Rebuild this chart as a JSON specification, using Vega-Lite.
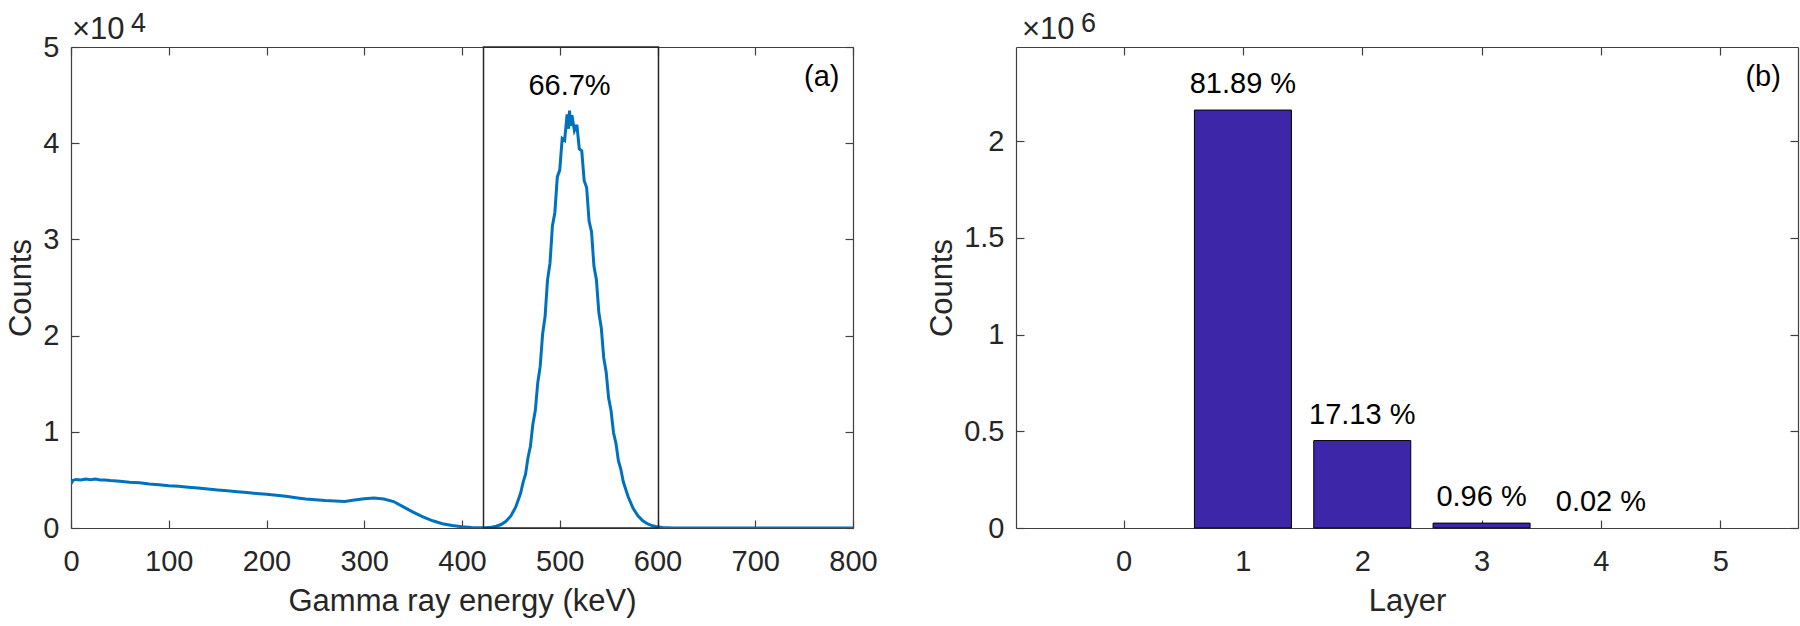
{
  "$schema": "https://vega.github.io/schema/vega-lite/v6.json",
  "background": "white",
  "padding": {"left": 5, "top": 10, "right": 5, "bottom": 5},
  "spacing": 48,
  "config": {
    "font": "Liberation Sans",
    "view": {"stroke": null},
    "axis": {
      "domainColor": "#404040", "tickColor": "#404040", "labelColor": "#262626", "titleColor": "#262626",
      "labelFontSize": 29, "titleFontSize": 31, "titleFontWeight": "normal", "grid": false,
      "tickSize": -8, "domainWidth": 1.2, "tickWidth": 1.2, "labelFont": "Liberation Sans", "titleFont": "Liberation Sans",
      "labelFlush": false, "labelOverlap": false
    },
    "axisBottom": {"labelPadding": 27, "titlePadding": 10},
    "axisLeft": {"labelPadding": 20, "titlePadding": 5}
  },
  "hconcat": [
    {
      "width": 782,
      "height": 481,
      "resolve": {"axis": {"x": "independent", "y": "independent"}},
      "layer": [
        {
          "data": {"values": [
            {"e":0,"c":4600},{"e":2,"c":4950},{"e":5,"c":5050},{"e":10,"c":5000},{"e":15,"c":5100},{"e":20,"c":5020},{"e":25,"c":5080},{"e":30,"c":4980},{"e":35,"c":5000},{"e":40,"c":4930},{"e":50,"c":4850},{"e":60,"c":4760},{"e":70,"c":4700},{"e":80,"c":4580},{"e":90,"c":4500},{"e":100,"c":4380},{"e":110,"c":4330},{"e":120,"c":4240},{"e":130,"c":4150},{"e":140,"c":4050},{"e":150,"c":3960},{"e":160,"c":3870},{"e":170,"c":3780},{"e":180,"c":3700},{"e":190,"c":3590},{"e":200,"c":3500},{"e":210,"c":3400},{"e":220,"c":3300},{"e":230,"c":3150},{"e":240,"c":3020},{"e":250,"c":2930},{"e":260,"c":2850},{"e":270,"c":2800},{"e":280,"c":2760},{"e":290,"c":2900},{"e":300,"c":3050},{"e":310,"c":3120},{"e":320,"c":3020},{"e":330,"c":2750},{"e":340,"c":2200},{"e":350,"c":1650},{"e":360,"c":1150},{"e":370,"c":750},{"e":380,"c":450},{"e":390,"c":250},{"e":400,"c":120},{"e":410,"c":50},{"e":420,"c":15},{"e":425,"c":40},{"e":430,"c":85},{"e":435,"c":180},{"e":440,"c":360},{"e":445,"c":690},{"e":450,"c":1260},{"e":455,"c":2190},{"e":460,"c":3640},{"e":462.5,"c":4750},{"e":465,"c":5600},{"e":467.5,"c":7300},{"e":470,"c":8500},{"e":472.5,"c":10800},{"e":475,"c":12200},{"e":477.5,"c":15100},{"e":480,"c":16800},{"e":482.5,"c":20200},{"e":485,"c":22000},{"e":487.5,"c":25800},{"e":490,"c":27500},{"e":492.5,"c":31400},{"e":495,"c":32800},{"e":497.5,"c":36500},{"e":500,"c":37200},{"e":502.5,"c":40500},{"e":505,"c":40300},{"e":507.5,"c":43000},{"e":509,"c":41500},{"e":510,"c":43400},{"e":511,"c":41800},{"e":512.5,"c":42900},{"e":515,"c":41300},{"e":517.5,"c":41900},{"e":520,"c":39400},{"e":522.5,"c":39200},{"e":525,"c":36100},{"e":527.5,"c":35400},{"e":530,"c":31900},{"e":532.5,"c":30800},{"e":535,"c":27200},{"e":537.5,"c":25800},{"e":540,"c":22400},{"e":542.5,"c":20800},{"e":545,"c":17700},{"e":547.5,"c":16200},{"e":550,"c":13500},{"e":552.5,"c":12200},{"e":555,"c":9900},{"e":557.5,"c":8800},{"e":560,"c":7000},{"e":562.5,"c":6100},{"e":565,"c":4800},{"e":570,"c":3240},{"e":575,"c":2050},{"e":580,"c":1260},{"e":585,"c":740},{"e":590,"c":420},{"e":595,"c":230},{"e":600,"c":120},{"e":605,"c":60},{"e":610,"c":30},{"e":615,"c":10},{"e":620,"c":0},{"e":700,"c":0},{"e":800,"c":0}
          ]},
          "mark": {"type": "line", "color": "#0072BD", "strokeWidth": 3, "clip": true},
          "encoding": {
            "x": {"field": "e", "type": "quantitative", "scale": {"domain": [0, 800], "nice": false, "zero": false},
                  "axis": {"orient": "bottom", "values": [0,100,200,300,400,500,600,700,800], "title": "Gamma ray energy (keV)"}},
            "y": {"field": "c", "type": "quantitative", "scale": {"domain": [0, 50000], "nice": false},
                  "axis": {"orient": "left", "values": [0,10000,20000,30000,40000,50000], "labelExpr": "datum.value / 10000", "title": "Counts"}}
          }
        },
        {
          "data": {"values": [{"lo": 422, "hi": 601, "ylo": 0, "yhi": 50000}]},
          "mark": {"type": "rect", "fill": null, "fillOpacity": 0, "stroke": "#262626", "strokeWidth": 1.5},
          "encoding": {
            "x": {"field": "lo", "type": "quantitative", "axis": {"orient": "top", "values": [0,100,200,300,400,500,600,700,800], "labels": false, "title": null}},
            "x2": {"field": "hi"},
            "y": {"field": "ylo", "type": "quantitative", "axis": {"orient": "right", "values": [0,10000,20000,30000,40000,50000], "labels": false, "title": null}},
            "y2": {"field": "yhi"}
          }
        },
        {
          "data": {"values": [{"x": 510, "y": 45950, "t": "66.7%"}, {"x": 768, "y": 46900, "t": "(a)"}]},
          "mark": {"type": "text", "fontSize": 29, "color": "#000000", "align": "center", "baseline": "middle", "font": "Liberation Sans"},
          "encoding": {
            "x": {"field": "x", "type": "quantitative", "axis": null},
            "y": {"field": "y", "type": "quantitative", "axis": null},
            "text": {"field": "t"}
          }
        },
        {
          "data": {"values": [{"x": 0, "y": 50000, "t": "×10"}]},
          "mark": {"type": "text", "fontSize": 31, "color": "#262626", "align": "left", "baseline": "alphabetic", "dx": 1, "dy": -8, "font": "Liberation Sans"},
          "encoding": {
            "x": {"field": "x", "type": "quantitative", "axis": null},
            "y": {"field": "y", "type": "quantitative", "axis": null},
            "text": {"field": "t"}
          }
        },
        {
          "data": {"values": [{"x": 0, "y": 50000, "t": "4"}]},
          "mark": {"type": "text", "fontSize": 27, "color": "#262626", "align": "left", "baseline": "alphabetic", "dx": 60, "dy": -15, "font": "Liberation Sans"},
          "encoding": {
            "x": {"field": "x", "type": "quantitative", "axis": null},
            "y": {"field": "y", "type": "quantitative", "axis": null},
            "text": {"field": "t"}
          }
        }
      ]
    },
    {
      "width": 782,
      "height": 481,
      "resolve": {"axis": {"x": "independent", "y": "independent"}},
      "layer": [
        {
          "data": {"values": [
            {"layer": 0, "counts": 0},
            {"layer": 1, "counts": 2160000},
            {"layer": 2, "counts": 451900},
            {"layer": 3, "counts": 25300},
            {"layer": 4, "counts": 530}
          ]},
          "mark": {"type": "bar", "color": "#3E26A8", "strokeWidth": 1, "width": 97},
          "encoding": {
            "x": {"field": "layer", "type": "quantitative", "scale": {"domain": [-0.86, 5.61], "nice": false, "zero": false},
                  "axis": {"orient": "bottom", "values": [0,1,2,3,4,5], "title": "Layer"}},
            "y": {"field": "counts", "type": "quantitative", "scale": {"domain": [0, 2486000], "nice": false},
                  "axis": {"orient": "left", "values": [0,500000,1000000,1500000,2000000], "labelExpr": "datum.value / 1000000", "title": "Counts"}},
            "stroke": {"condition": {"test": "datum.counts > 1000", "value": "#000000"}, "value": null}
          }
        },
        {
          "data": {"values": [
            {"layer": 1, "counts": 2160000, "t": "81.89 %"},
            {"layer": 2, "counts": 451900, "t": "17.13 %"},
            {"layer": 3, "counts": 25300, "t": "0.96 %"},
            {"layer": 4, "counts": 530, "t": "0.02 %"}
          ]},
          "mark": {"type": "text", "fontSize": 29, "color": "#000000", "align": "center", "baseline": "alphabetic", "dy": -17, "font": "Liberation Sans"},
          "encoding": {
            "x": {"field": "layer", "type": "quantitative", "axis": {"orient": "top", "values": [0,1,2,3,4,5], "labels": false, "title": null}},
            "y": {"field": "counts", "type": "quantitative", "axis": {"orient": "right", "values": [0,500000,1000000,1500000,2000000], "labels": false, "title": null}},
            "text": {"field": "t"}
          }
        },
        {
          "data": {"values": [{"x": 5.36, "y": 2331000, "t": "(b)"}]},
          "mark": {"type": "text", "fontSize": 29, "color": "#000000", "align": "center", "baseline": "middle", "font": "Liberation Sans"},
          "encoding": {
            "x": {"field": "x", "type": "quantitative", "axis": null},
            "y": {"field": "y", "type": "quantitative", "axis": null},
            "text": {"field": "t"}
          }
        },
        {
          "data": {"values": [{"x": -0.86, "y": 2486000, "t": "×10"}]},
          "mark": {"type": "text", "fontSize": 31, "color": "#262626", "align": "left", "baseline": "alphabetic", "dx": 1, "dy": -8, "font": "Liberation Sans"},
          "encoding": {
            "x": {"field": "x", "type": "quantitative", "axis": null},
            "y": {"field": "y", "type": "quantitative", "axis": null},
            "text": {"field": "t"}
          }
        },
        {
          "data": {"values": [{"x": -0.86, "y": 2486000, "t": "6"}]},
          "mark": {"type": "text", "fontSize": 27, "color": "#262626", "align": "left", "baseline": "alphabetic", "dx": 60, "dy": -15, "font": "Liberation Sans"},
          "encoding": {
            "x": {"field": "x", "type": "quantitative", "axis": null},
            "y": {"field": "y", "type": "quantitative", "axis": null},
            "text": {"field": "t"}
          }
        }
      ]
    }
  ]
}
